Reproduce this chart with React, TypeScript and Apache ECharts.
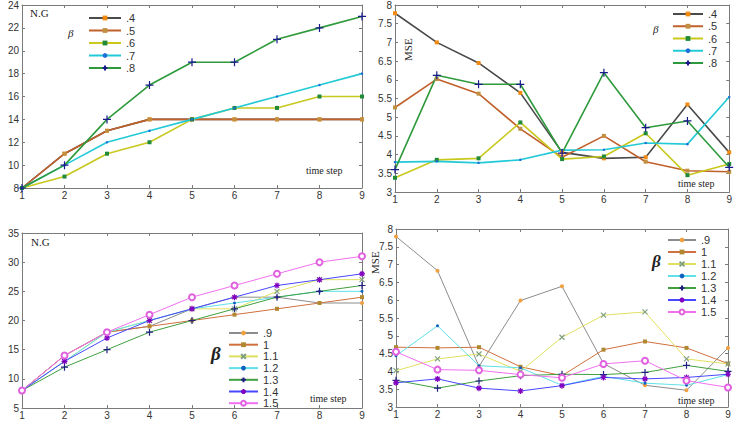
import React, { useEffect, useRef } from "react";
import * as echarts from "echarts";

const steps = ["1", "2", "3", "4", "5", "6", "7", "8", "9"];

const betaTop = [".4", ".5", ".6", ".7", ".8"];
const betaBottom = [".9", "1", "1.1", "1.2", "1.3", "1.4", "1.5"];

// Top-left: N.G, beta .4 - .8
const ngTop04 = [8, 11, 13, 14, 14, 14, 14, 14, 14];
const ngTop05 = [8, 11, 13, 14, 14, 14, 14, 14, 14];
const ngTop06 = [8, 9, 11, 12, 14, 15, 15, 16, 16];
const ngTop07 = [8, 10, 12, 13, 14, 15, 16, 17, 18];
const ngTop08 = [8, 10, 14, 17, 19, 19, 21, 22, 23];

// Top-right: MSE, beta .4 - .8
const mseTop04 = [7.78, 7.0, 6.45, 5.65, 4.06, 3.9, 3.93, 5.34, 4.06];
const mseTop05 = [5.26, 6.02, 5.63, 4.69, 3.93, 4.5, 3.81, 3.57, 3.54];
const mseTop06 = [3.38, 3.86, 3.9, 4.86, 3.88, 3.95, 4.57, 3.45, 3.75];
const mseTop07 = [3.8, 3.82, 3.78, 3.86, 4.12, 4.13, 4.31, 4.28, 5.54];
const mseTop08 = [3.6, 6.12, 5.88, 5.88, 4.04, 6.19, 4.72, 4.9, 3.66];

// Bottom-left: N.G, beta .9 - 1.5
const ngBot09 = [8, 14, 18, 19, 22, 24, 24, 23, 23];
const ngBot10 = [8, 14, 18, 19, 20, 21, 22, 23, 24];
const ngBot11 = [8, 13, 18, 20, 22, 22, 25, 27, 27];
const ngBot12 = [8, 13, 18, 20, 22, 23, 24, 25, 25];
const ngBot13 = [8, 12, 15, 18, 20, 22, 24, 25, 26];
const ngBot14 = [8, 13, 17, 20, 22, 24, 26, 27, 28];
const ngBot15 = [8, 14, 18, 21, 24, 26, 28, 30, 31];

// Bottom-right: MSE, beta .9 - 1.5
const mseBot09 = [7.79, 6.83, 4.14, 5.99, 6.39, 4.22, 3.61, 3.47, 4.66];
const mseBot10 = [4.68, 4.66, 4.68, 4.13, 3.88, 4.61, 4.84, 4.66, 4.22];
const mseBot11 = [4.02, 4.35, 4.49, 4.0, 4.96, 5.58, 5.67, 4.35, 4.21];
const mseBot12 = [4.44, 5.28, 4.16, 4.1, 3.61, 3.86, 3.67, 3.61, 3.91];
const mseBot13 = [3.75, 3.53, 3.73, 3.88, 3.92, 3.91, 3.97, 4.17, 4.0];
const mseBot14 = [3.68, 3.79, 3.53, 3.45, 3.6, 3.83, 3.79, 3.83, 3.92];
const mseBot15 = [4.55, 4.05, 4.03, 3.91, 3.82, 4.21, 4.3, 3.74, 3.55];

const PLUS = "path://M5,0L5,10M0,5L10,5";
const CROSS = "path://M0,0L10,10M10,0L0,10";
const STAR = "path://M5,0L5,10M0,5L10,5M1.5,1.5L8.5,8.5M8.5,1.5L1.5,8.5";

type Sty = { line: string; w: number; symbol: string; size: number; color: string; stroke?: boolean };

const topStyles: Sty[] = [
  { line: "#4a4a4a", w: 1.6, symbol: "rect", size: 4, color: "#f08a10" },
  { line: "#c0602a", w: 1.6, symbol: "rect", size: 4, color: "#c09040" },
  { line: "#c8c81e", w: 1.6, symbol: "rect", size: 4, color: "#1f8a3a" },
  { line: "#22cad8", w: 1.6, symbol: "circle", size: 2.5, color: "#1e6fd8" },
  { line: "#2e9a3c", w: 1.6, symbol: PLUS, size: 8, color: "#1a1a8c", stroke: true },
];

const botStyles: Sty[] = [
  { line: "#8c8c8c", w: 1, symbol: "circle", size: 4, color: "#f0a040" },
  { line: "#d07040", w: 1, symbol: "rect", size: 4, color: "#b08830" },
  { line: "#e0e060", w: 1, symbol: CROSS, size: 5, color: "#80a080", stroke: true },
  { line: "#60e0e8", w: 1, symbol: "circle", size: 3, color: "#1060c0" },
  { line: "#40a040", w: 1, symbol: PLUS, size: 7, color: "#202080", stroke: true },
  { line: "#4848ff", w: 1, symbol: STAR, size: 6, color: "#8000c0", stroke: true },
  { line: "#f070f0", w: 1, symbol: "emptyCircle", size: 6, color: "#e060e0" },
];

const grids = [
  { left: 22, top: 5, width: 340, height: 183, min: 8, max: 24, interval: 2 },
  { left: 395, top: 4, width: 335, height: 188, min: 3, max: 8, interval: 0.5 },
  { left: 22, top: 233, width: 340, height: 175, min: 5, max: 35, interval: 5 },
  { left: 396, top: 229, width: 332, height: 178, min: 3, max: 8, interval: 0.5 },
];

const AX = "#7a7a7a";

function mkSeries(name: string, data: number[], s: Sty, gi: number) {
  let itemStyle: any;
  if (s.symbol === "emptyCircle") itemStyle = { color: s.color, borderWidth: 0.9 };
  else if (s.stroke) itemStyle = { color: "none", borderColor: s.color, borderWidth: 1.2 };
  else itemStyle = { color: s.color, borderWidth: 0 };
  return {
    type: "line",
    name,
    xAxisIndex: gi * 2,
    yAxisIndex: gi * 2,
    data,
    symbol: s.symbol,
    symbolSize: s.size,
    showAllSymbol: true,
    lineStyle: { color: s.line, width: s.w },
    itemStyle,
    emphasis: { disabled: true },
  };
}

export default function App() {
  const ref = useRef<HTMLDivElement>(null);
  useEffect(() => {
    if (!ref.current) return;
    const chart = echarts.init(ref.current, undefined, { renderer: "svg" });

    const xAxis: any[] = [];
    const yAxis: any[] = [];
    grids.forEach((g, i) => {
      const common = {
        gridIndex: i,
        axisLine: { show: true, onZero: false, lineStyle: { color: AX, width: 1 } },
        axisTick: { show: true, inside: true, length: 3, lineStyle: { color: AX } },
        splitLine: { show: false },
      };
      xAxis.push({
        ...common,
        type: "category",
        data: steps,
        boundaryGap: false,
        position: "bottom",
        axisLabel: { color: "#333", fontSize: 10, margin: 2, fontFamily: "Liberation Sans, Arial" },
      });
      xAxis.push({
        ...common,
        type: "category",
        data: steps,
        boundaryGap: false,
        position: "top",
        axisLabel: { show: false },
      });
      yAxis.push({
        ...common,
        type: "value",
        min: g.min,
        max: g.max,
        interval: g.interval,
        position: "left",
        axisLabel: { color: "#333", fontSize: 10, margin: 3, fontFamily: "Liberation Sans, Arial" },
      });
      yAxis.push({
        ...common,
        type: "value",
        min: g.min,
        max: g.max,
        interval: g.interval,
        position: "right",
        axisLabel: { show: false },
      });
    });

    const series: any[] = [];
    const ngTop = [ngTop04, ngTop05, ngTop06, ngTop07, ngTop08];
    const mseTop = [mseTop04, mseTop05, mseTop06, mseTop07, mseTop08];
    const ngBot = [ngBot09, ngBot10, ngBot11, ngBot12, ngBot13, ngBot14, ngBot15];
    const mseBot = [mseBot09, mseBot10, mseBot11, mseBot12, mseBot13, mseBot14, mseBot15];
    betaTop.forEach((b, k) => series.push(mkSeries(b, ngTop[k], topStyles[k], 0)));
    betaTop.forEach((b, k) => series.push(mkSeries(b, mseTop[k], topStyles[k], 1)));
    betaBottom.forEach((b, k) => series.push(mkSeries(b, ngBot[k], botStyles[k], 2)));
    betaBottom.forEach((b, k) => series.push(mkSeries(b, mseBot[k], botStyles[k], 3)));

    const legendBase = {
      orient: "vertical",
      selectedMode: false,
      textStyle: { color: "#333", fontSize: 11, lineHeight: 9, fontFamily: "Liberation Sans, Arial" },
      itemHeight: 6,
      padding: 0,
    };

    const serif = "Liberation Serif, Times New Roman, serif";
    const txt = (x: number, y: number, text: string, extra: any = {}) => ({
      type: "text",
      x,
      y,
      style: { text, fill: "#222", font: `11px ${serif}`, ...extra },
    });

    chart.setOption({
      animation: false,
      backgroundColor: "#fff",
      grid: grids.map((g) => ({ left: g.left, top: g.top, width: g.width, height: g.height })),
      xAxis,
      yAxis,
      series,
      legend: [
        { ...legendBase, data: betaTop, left: 88, top: 12.5, itemWidth: 32, itemGap: 1.5 },
        { ...legendBase, data: betaTop, left: 672, top: 8.5, itemWidth: 30, itemGap: 1.25 },
        { ...legendBase, data: betaBottom, left: 228, top: 327.5, itemWidth: 29, itemGap: 0.7 },
        { ...legendBase, data: betaBottom, left: 667, top: 234.5, itemWidth: 28, itemGap: 1 },
      ],
      graphic: [
        txt(30, 7, "N.G"),
        txt(31, 236, "N.G"),
        txt(68, 27, "β", { font: `italic 11px ${serif}` }),
        txt(653, 23, "β", { font: `italic 11px ${serif}` }),
        txt(211, 344, "β", { font: `italic bold 19px ${serif}` }),
        txt(652, 253, "β", { font: `italic bold 17px ${serif}` }),
        txt(306, 165, "time step", { font: `10px ${serif}` }),
        txt(678, 178, "time step", { font: `10px ${serif}` }),
        txt(310, 393, "time step", { font: `10px ${serif}` }),
        txt(678, 395, "time step", { font: `10px ${serif}` }),
        {
          type: "text",
          x: 402,
          y: 61,
          rotation: Math.PI / 2,
          style: { text: "MSE", fill: "#222", font: `11px ${serif}` },
        },
        {
          type: "text",
          x: 369,
          y: 274,
          rotation: Math.PI / 2,
          style: { text: "MSE", fill: "#222", font: `11px ${serif}` },
        },
      ],
    });
    return () => chart.dispose();
  }, []);
  return (
    <div
      ref={ref}
      style={{ position: "absolute", left: 0, top: 0, width: 735, height: 421 }}
    />
  );
}
